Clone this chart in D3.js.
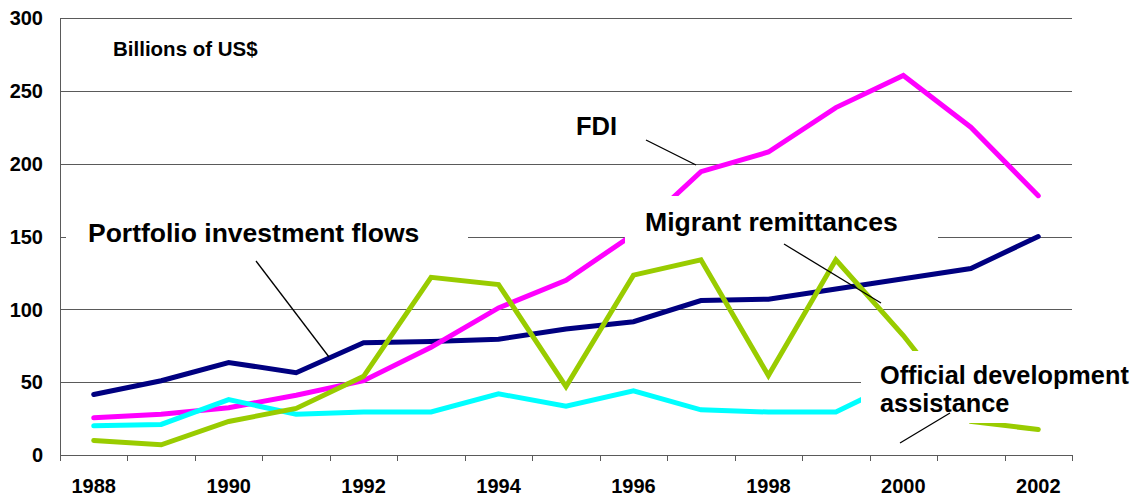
<!DOCTYPE html>
<html lang="en">
<head>
    <meta charset="UTF-8">
    <title>Financial flows to developing countries</title>
    <script src="https://d3js.org/d3.v7.min.js"></script>
    <style>
        body {
            margin: 0;
            background: #fff;
        }
        svg {
            display: block;
            font-family: "Liberation Sans", Arial, sans-serif;
            font-weight: bold;
        }
        .grid line {
            stroke: #5a5a5a;
            stroke-width: 1;
        }
        .series {
            fill: none;
            stroke-width: 5;
            stroke-linecap: round;
        }
        .leader {
            stroke: #000;
            stroke-width: 1.3;
        }
    </style>
</head>
<body>
<svg width="1144" height="498"></svg>
<script>
    // data, billions of US$
    const years = [1988, 1989, 1990, 1991, 1992, 1993, 1994, 1995, 1996, 1997, 1998, 1999, 2000, 2001, 2002];
    const fdi = [25.5, 28, 32.5, 41, 51, 74, 101, 120, 151.5, 194.5, 208, 238.5, 260.5, 225, 178];
    const portfolio = [41.5, 51, 63.5, 56.5, 77, 78, 79.5, 86.5, 91.5, 106, 107, 114, 121, 128, 150];
    const remittances = [10, 7, 23, 32, 54, 122, 117, 47, 123.5, 134, 54.5, 134, 82, 23, 17.5];
    const oda = [20, 21, 38, 28, 29.5, 29.5, 42, 33.5, 44, 31, 29.5, 29.5, 52, 36, 32];
    const yTicks = [0, 50, 100, 150, 200, 250, 300];
    const xLabels = [1988, 1990, 1992, 1994, 1996, 1998, 2000, 2002];

    const series = [
        { name: "Portfolio investment flows", values: portfolio, color: "#000080" },
        { name: "FDI", values: fdi, color: "#ff00ff" },
        { name: "Official development assistance", values: oda, color: "#00ffff" },
        { name: "Migrant remittances", values: remittances, color: "#99cc00" }
    ];

    const svg = d3.select("svg"),
        margin = { top: 18, right: 72, bottom: 43, left: 60 },
        width = 1144 - margin.left - margin.right,
        height = 498 - margin.top - margin.bottom;

    const x = d3.scaleBand().domain(years).range([0, width]);
    const y = d3.scaleLinear().domain([0, 300]).range([height, 0]);
    const cx = d => x(d) + x.bandwidth() / 2;

    const g = svg.append("g").attr("transform", `translate(${margin.left},${margin.top})`);

    // horizontal gridlines
    g.append("g").attr("class", "grid")
        .selectAll("line")
        .data(yTicks.filter(t => t > 0))
        .enter().append("line")
        .attr("x1", 0).attr("x2", width)
        .attr("y1", d => Math.round(y(d)) + 0.5)
        .attr("y2", d => Math.round(y(d)) + 0.5);

    // y axis
    g.append("line")
        .attr("x1", 0.5).attr("x2", 0.5)
        .attr("y1", 0).attr("y2", height)
        .attr("stroke", "#5a5a5a");

    g.selectAll(".ylab")
        .data(yTicks)
        .enter().append("text")
        .attr("class", "ylab")
        .attr("x", -17)
        .attr("y", d => y(d))
        .attr("dy", "0.36em")
        .attr("text-anchor", "end")
        .style("font-size", "20px")
        .text(d => d);

    // x axis: ticks on category boundaries
    const bounds = years.map(d => x(d)).concat([width]);
    g.append("line")
        .attr("x1", 0).attr("x2", width)
        .attr("y1", height + 0.5).attr("y2", height + 0.5)
        .attr("stroke", "#5a5a5a");
    g.selectAll(".xtick")
        .data(bounds)
        .enter().append("line")
        .attr("class", "xtick")
        .attr("x1", d => Math.round(d) + 0.5).attr("x2", d => Math.round(d) + 0.5)
        .attr("y1", height).attr("y2", height + 6)
        .attr("stroke", "#5a5a5a");

    g.selectAll(".xlab")
        .data(xLabels)
        .enter().append("text")
        .attr("class", "xlab")
        .attr("x", d => cx(d))
        .attr("y", height + 38)
        .attr("text-anchor", "middle")
        .style("font-size", "20px")
        .text(d => d);

    // the four series
    const line = d3.line()
        .x((d, i) => cx(years[i]))
        .y(d => y(d));

    g.selectAll(".series")
        .data(series)
        .enter().append("path")
        .attr("class", "series")
        .attr("stroke", d => d.color)
        .attr("d", d => line(d.values));

    // label boxes (white background hides what is underneath, as in the original)
    const labels = [
        { text: ["Portfolio investment flows"], box: [66, 212, 402, 38], x: 88, y: 242, size: 26.5 },
        { text: ["Migrant remittances"], box: [625, 196, 313, 54], x: 645, y: 231, size: 26.6 },
        { text: ["FDI"], box: [570, 112, 52, 30], x: 576, y: 135, size: 25.5 },
        { text: ["Official development", "assistance"], box: [861, 351, 280, 72], x: 880, y: 384, size: 25.3 }
    ];

    labels.forEach(l => {
        svg.append("rect")
            .attr("x", l.box[0]).attr("y", l.box[1])
            .attr("width", l.box[2]).attr("height", l.box[3])
            .attr("fill", "#fff");
        const t = svg.append("text")
            .attr("x", l.x).attr("y", l.y)
            .style("font-size", l.size + "px");
        l.text.forEach((s, i) => {
            t.append("tspan").attr("x", l.x).attr("dy", i === 0 ? 0 : 28).text(s);
        });
    });

    svg.append("text")
        .attr("x", 113).attr("y", 56)
        .style("font-size", "20.5px")
        .text("Billions of US$");

    // leader lines
    const leaders = [
        [646, 140, 696, 165],
        [256, 261, 329, 357],
        [784, 244, 881, 303],
        [900, 443, 950, 413]
    ];
    svg.selectAll(".leader")
        .data(leaders)
        .enter().append("line")
        .attr("class", "leader")
        .attr("x1", d => d[0]).attr("y1", d => d[1])
        .attr("x2", d => d[2]).attr("y2", d => d[3]);
</script>
</body>
</html>
